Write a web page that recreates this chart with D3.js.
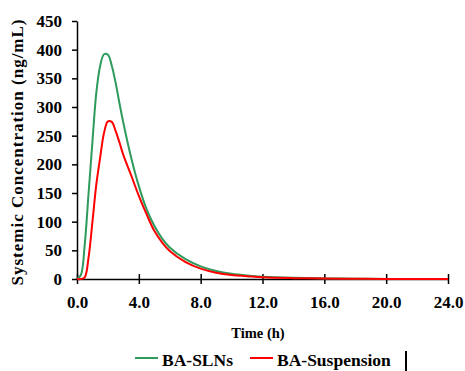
<!DOCTYPE html>
<html>
<head>
<meta charset="utf-8">
<script src="https://cdn.jsdelivr.net/npm/d3@7"></script>
<style>
  body { margin: 0; background: #fff; }
  svg { display: block; font-family: "Liberation Serif", "Times New Roman", serif; font-weight: bold; }
  .axis path, .axis line { stroke: #000; stroke-width: 1.5; }
  .axis text { font-size: 17px; font-weight: bold; fill: #000; font-family: "Liberation Serif", serif; }
</style>
</head>
<body>
<svg id="chart" width="465" height="371"></svg>
<script>
// 时间点 (h) 与两组血药浓度 (ng/mL)
const timePoints = [0, 0.25, 0.5, 0.75, 1, 1.25, 1.5, 1.75, 2, 2.25, 2.5, 2.75, 3, 3.5, 4, 4.5, 5, 5.5, 6, 7, 8, 9, 10, 11, 12, 14, 16, 18, 20, 24];
const slnValues = [0, 7, 60, 150, 240, 325, 372, 392, 391, 372, 342, 306, 272, 212, 162, 122, 93, 71, 55, 35, 22, 14, 9, 6, 4, 2, 1, 0.5, 0.2, 0];
const suspensionValues = [0, 0, 3, 38, 100, 165, 212, 255, 275, 274, 258, 238, 216, 181, 145, 113, 84, 64, 49, 30, 18, 11, 7, 5, 3, 1.5, 0.8, 0.4, 0.2, 0];
const xTicks = [0, 4, 8, 12, 16, 20, 24];
const yTicks = [0, 50, 100, 150, 200, 250, 300, 350, 400, 450];

const series = [
  { name: 'BA-SLNs', values: slnValues, color: '#2e9a5c' },
  { name: 'BA-Suspension', values: suspensionValues, color: '#ff0000' },
];

const svg = d3.select('#chart');
const margin = { left: 77, top: 21, right: 17, bottom: 92 };
const width = 465 - margin.left - margin.right;
const height = 371 - margin.top - margin.bottom;

const g = svg.append('g').attr('transform', `translate(${margin.left},${margin.top})`);

const x = d3.scaleLinear().domain([0, 24]).range([0, width]);
const y = d3.scaleLinear().domain([0, 450]).range([height, 0]);

const line = d3.line()
  .x((d) => x(d[0]))
  .y((d) => Math.min(y(0), y(d[1])))
  .curve(d3.curveCatmullRom.alpha(0.5));

// x 轴：刻度穿过轴线
const xAxis = g.append('g')
  .attr('class', 'axis')
  .attr('transform', `translate(0,${height})`)
  .call(d3.axisBottom(x).tickValues(xTicks).tickFormat(d3.format('.1f')).tickSize(5).tickSizeOuter(0));
xAxis.selectAll('.tick line').attr('y1', -5);
xAxis.selectAll('.tick text').attr('y', 29).attr('dy', 0);

g.append('g')
  .attr('class', 'axis')
  .call(d3.axisLeft(y).tickValues(yTicks).tickSize(5).tickSizeOuter(0))
  .selectAll('.tick text').attr('x', -15);

series.forEach((s) => {
  g.append('path')
    .datum(timePoints.map((t, i) => [t, s.values[i]]))
    .attr('fill', 'none')
    .attr('stroke', s.color)
    .attr('stroke-width', 2)
    .attr('d', line);
});

// 轴标题
svg.append('text')
  .attr('transform', 'rotate(-90)')
  .attr('x', -152)
  .attr('y', 23)
  .attr('text-anchor', 'middle')
  .style('font-size', '17px')
  .style('letter-spacing', '1px')
  .text('Systemic Concentration (ng/mL)');

svg.append('text')
  .attr('x', 258)
  .attr('y', 338)
  .attr('text-anchor', 'middle')
  .style('font-size', '14.5px')
  .text('Time (h)');

// 图例
const legend = svg.append('g').attr('transform', 'translate(135, 358)');
const legendX = [0, 115];
series.forEach((s, i) => {
  const item = legend.append('g').attr('transform', `translate(${legendX[i]},0)`);
  item.append('line')
    .attr('x1', 0).attr('x2', 23)
    .attr('stroke', s.color)
    .attr('stroke-width', 2);
  item.append('text')
    .attr('x', 27)
    .attr('y', 8)
    .style('font-size', '17.5px')
    .text(s.name);
});
svg.append('line')
  .attr('x1', 406).attr('x2', 406)
  .attr('y1', 351).attr('y2', 371)
  .attr('stroke', '#000')
  .attr('stroke-width', 2);
</script>
</body>
</html>
